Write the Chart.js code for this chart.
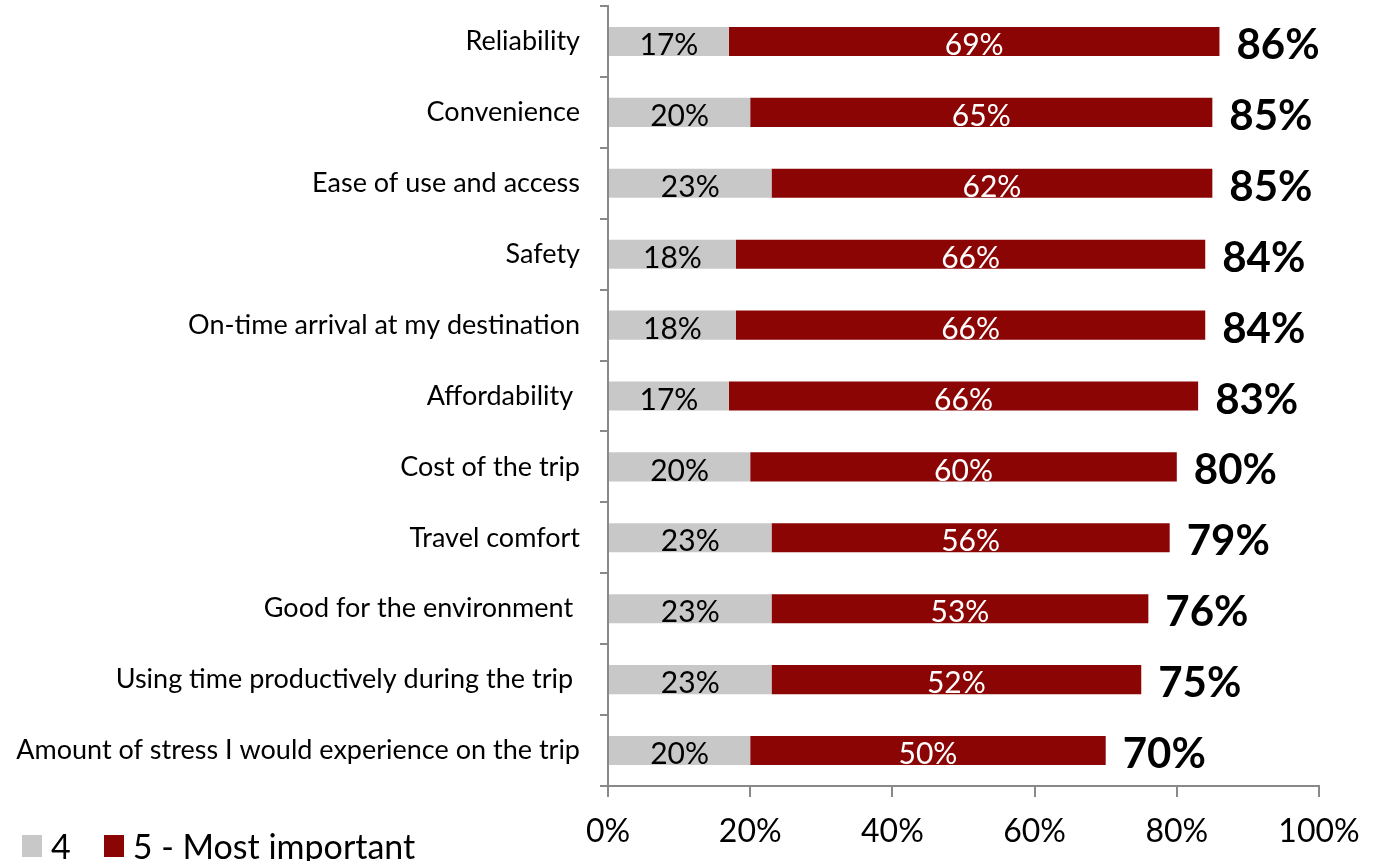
<!DOCTYPE html>
<html>
<head>
<meta charset="utf-8">
<script src="https://cdn.jsdelivr.net/npm/chart.js@4/dist/chart.umd.min.js"></script>
<style>
  html, body { margin: 0; padding: 0; background: #fff; }
  #wrap { position: relative; width: 1380px; height: 861px; }
  #legend {
    position: absolute; left: 22px; top: 825px;
    font-family: Lato, "Open Sans", sans-serif; font-size: 34px; color: #000;
    display: flex; align-items: center; white-space: nowrap;
  }
  #legend .sw { display: inline-block; width: 20px; height: 22px; margin-right: 9px; }
  #legend .item { display: flex; align-items: center; margin-right: 33px; }
</style>
</head>
<body>
<div id="wrap">
  <canvas id="c" width="1380" height="861"></canvas>
  <div id="legend"></div>
</div>
<script>
// Attributes rated by importance, top to bottom
const categories = [
  'Reliability',
  'Convenience',
  'Ease of use and access',
  'Safety',
  'On-time arrival at my destination',
  'Affordability ',
  'Cost of the trip',
  'Travel comfort',
  'Good for the environment ',
  'Using time productively during the trip ',
  'Amount of stress I would experience on the trip'
];
// Share rating 4
const rating4 = [17, 20, 23, 18, 18, 17, 20, 23, 23, 23, 20];
// Share rating 5 - Most important
const rating5 = [69, 65, 62, 66, 66, 66, 60, 56, 53, 52, 50];
// Top-two-box totals (4 + 5)
const topTwo = [86, 85, 85, 84, 84, 83, 80, 79, 76, 75, 70];
const xTickValues = [0, 20, 40, 60, 80, 100];
const seriesNames = ['4', '5 - Most important'];

const GREY = '#C8C8C8';
const RED = '#8B0505';
const AXIS = '#898989';
const FONT = 'Lato, "Open Sans", sans-serif';

// Percent labels inside each segment plus bold totals at the bar ends
const barLabels = {
  id: 'barLabels',
  afterDatasetsDraw(chart) {
    const ctx = chart.ctx;
    ctx.save();
    ctx.textBaseline = 'middle';
    ctx.textAlign = 'center';
    chart.data.datasets.forEach((ds, di) => {
      const meta = chart.getDatasetMeta(di);
      ctx.font = '30px ' + FONT;
      ctx.fillStyle = di === 0 ? '#000' : '#fff';
      meta.data.forEach((bar, i) => {
        const cx = (bar.x + bar.base) / 2;
        ctx.fillText(ds.data[i] + '%', cx, bar.y + 4);
      });
    });
    const xs = chart.scales.x;
    const meta0 = chart.getDatasetMeta(0);
    ctx.textAlign = 'left';
    ctx.fillStyle = '#000';
    ctx.font = 'bold 42px ' + FONT;
    topTwo.forEach((v, i) => {
      const y = meta0.data[i].y;
      ctx.fillText(v + '%', xs.getPixelForValue(v) + 17, y + 4);
    });
    ctx.restore();
  }
};

new Chart(document.getElementById('c'), {
  type: 'bar',
  data: {
    labels: categories,
    datasets: [
      { label: seriesNames[0], data: rating4, backgroundColor: GREY, barPercentage: 0.41, categoryPercentage: 1 },
      { label: seriesNames[1], data: rating5, backgroundColor: RED, barPercentage: 0.41, categoryPercentage: 1 }
    ]
  },
  options: {
    indexAxis: 'y',
    responsive: false,
    animation: false,
    layout: { padding: { top: 6, right: 61, left: 0, bottom: 0 } },
    plugins: { legend: { display: false }, tooltip: { enabled: false } },
    scales: {
      x: {
        stacked: true,
        min: 0, max: 100,
        afterBuildTicks(scale) { scale.ticks = xTickValues.map(v => ({ value: v })); },
        afterFit(scale) {
          scale.height = 75;
          scale.paddingLeft = 0; scale.paddingRight = 0;
        },
        ticks: {
          callback: v => v + '%',
          color: '#000',
          font: { family: FONT, size: 32 },
          padding: 15,
          maxRotation: 0
        },
        grid: { drawOnChartArea: false, drawTicks: true, tickLength: 11, color: AXIS, lineWidth: 2 },
        border: { display: true, color: AXIS, width: 2 }
      },
      y: {
        stacked: true,
        afterFit(scale) {
          scale.width = 608;
          scale.paddingTop = 0; scale.paddingBottom = 0;
        },
        ticks: {
          color: '#000',
          font: { family: FONT, size: 27 },
          padding: 20,
          autoSkip: false
        },
        grid: { offset: true, drawOnChartArea: false, drawTicks: true, tickLength: 8, color: AXIS, lineWidth: 2 },
        border: { display: true, color: AXIS, width: 2 }
      }
    }
  },
  plugins: [barLabels]
});

// Legend under the category labels
const legendEl = document.getElementById('legend');
[GREY, RED].forEach((col, i) => {
  const item = document.createElement('span');
  item.className = 'item';
  const sw = document.createElement('span');
  sw.className = 'sw';
  sw.style.background = col;
  item.appendChild(sw);
  item.appendChild(document.createTextNode(seriesNames[i]));
  legendEl.appendChild(item);
});
</script>
</body>
</html>
